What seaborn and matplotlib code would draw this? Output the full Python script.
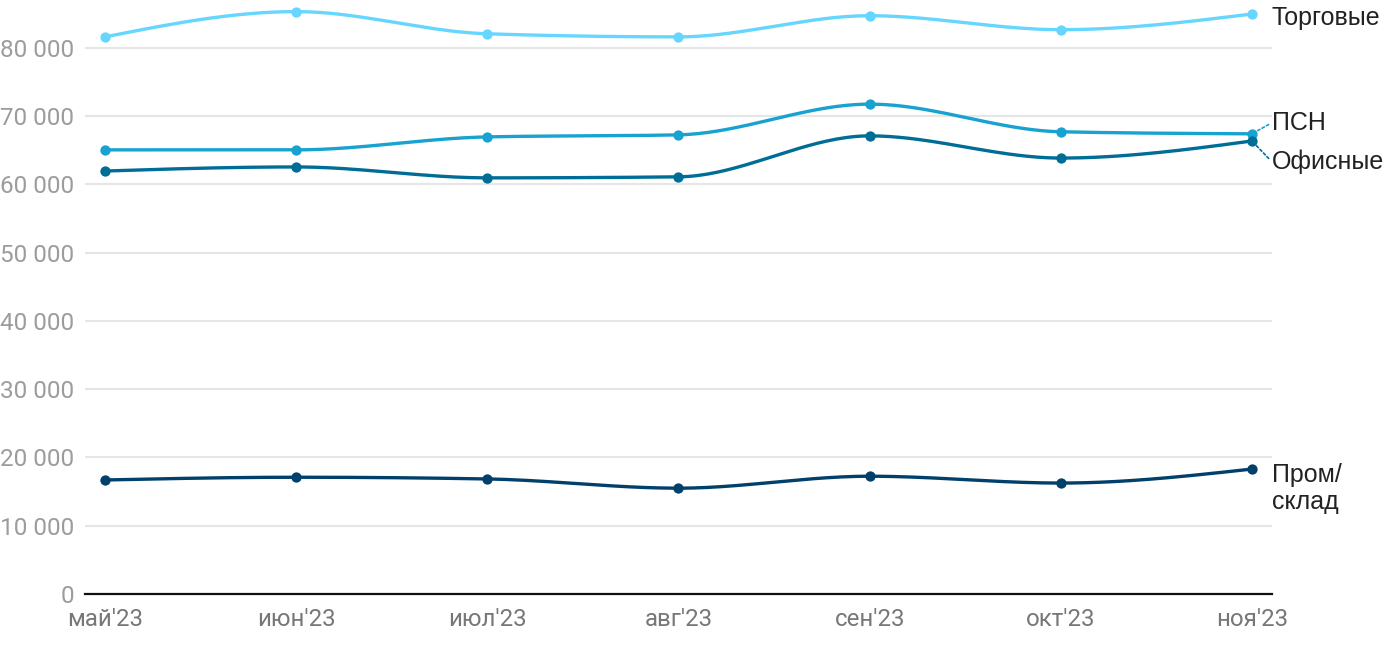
import numpy as np
import pandas as pd
import matplotlib
matplotlib.use("Agg")
import matplotlib.pyplot as plt
import seaborn as sns

# ---------------- данные ----------------
months = ["май'23", "июн'23", "июл'23", "авг'23", "сен'23", "окт'23", "ноя'23"]
torgovye = [81600, 85300, 82050, 81600, 84700, 82650, 84950]
psn = [65050, 65050, 66950, 67250, 71750, 67700, 67400]
ofisnye = [61950, 62550, 60950, 61100, 67100, 63850, 66350]
prom_sklad = [16700, 17100, 16850, 15500, 17250, 16250, 18300]

series_names = ["Торговые", "ПСН", "Офисные", "Пром/\nсклад"]
series_values = [torgovye, psn, ofisnye, prom_sklad]
colors = ["#66d6ff", "#17a2d0", "#006d96", "#00406a"]

y_ticks = [0, 10000, 20000, 30000, 40000, 50000, 60000, 70000, 80000]


def monotone_curve(x, y, n=40):
    """Кривая monotoneX (как в d3) между точками."""
    x = np.asarray(x, float)
    y = np.asarray(y, float)
    h = np.diff(x)
    s = np.diff(y) / h
    t = np.zeros_like(y)
    for i in range(1, len(y) - 1):
        p = (s[i - 1] * h[i] + s[i] * h[i - 1]) / (h[i - 1] + h[i])
        t[i] = (np.sign(s[i - 1]) + np.sign(s[i])) * min(abs(s[i - 1]), abs(s[i]), 0.5 * abs(p))
    t[0] = (3 * s[0] - t[1]) / 2
    t[-1] = (3 * s[-1] - t[-2]) / 2
    xs, ys = [], []
    for i in range(len(x) - 1):
        u = np.linspace(0, 1, n, endpoint=(i == len(x) - 2))
        h00 = 2 * u**3 - 3 * u**2 + 1
        h10 = u**3 - 2 * u**2 + u
        h01 = -2 * u**3 + 3 * u**2
        h11 = u**3 - u**2
        xs.append(x[i] + u * h[i])
        ys.append(h00 * y[i] + h10 * h[i] * t[i] + h01 * y[i + 1] + h11 * h[i] * t[i + 1])
    return np.concatenate(xs), np.concatenate(ys)


sns.set_style("white")
plt.rcParams["font.family"] = ["Roboto", "DejaVu Sans"]

fig = plt.figure(figsize=(14, 6.5), dpi=100)
ax = fig.add_axes([85 / 1400, 56 / 650, (1272 - 85) / 1400, 594 / 650])

xpos = np.arange(len(months))
for name, vals, col in zip(series_names, series_values, colors):
    cx, cy = monotone_curve(xpos, vals)
    curve = pd.DataFrame({"x": cx, "y": cy})
    sns.lineplot(data=curve, x="x", y="y", color=col, linewidth=2.4,
                 ax=ax, clip_on=False, zorder=3, sort=False)
    pts = pd.DataFrame({"x": xpos, "y": vals})
    sns.scatterplot(data=pts, x="x", y="y", color=col, s=55, linewidth=0,
                    ax=ax, clip_on=False, zorder=4)

ax.set_xlim(-0.105, len(months) - 1 + 0.105)
ax.set_ylim(0, 87000)
ax.set_xticks(xpos)
ax.set_xticklabels(months)
ax.set_yticks(y_ticks)
ax.set_yticklabels([f"{v:,}".replace(",", " ") for v in y_ticks])
ax.set_xlabel("")
ax.set_ylabel("")

ax.tick_params(axis="y", length=0, pad=8, labelsize=17.5, labelcolor="#9c9c9c")
ax.tick_params(axis="x", length=0, pad=10, labelsize=17.3, labelcolor="#777777")
ax.grid(axis="y", color="#e6e6e6", linewidth=1.5)
ax.grid(axis="x", visible=False)
for side in ["top", "right", "left"]:
    ax.spines[side].set_visible(False)
ax.spines["bottom"].set_color("#111111")
ax.spines["bottom"].set_linewidth(1.6)
ax.spines["bottom"].set_zorder(5)

# подписи серий справа
last = len(months) - 1
label_font = dict(family=["Liberation Sans", "DejaVu Sans"], fontsize=18, color="#222222",
                  va="center", ha="left", linespacing=1.2)
ax.annotate(series_names[0], xy=(last, torgovye[-1]), xytext=(14.4, -3),
            textcoords="offset points", annotation_clip=False, **label_font)
ax.annotate(series_names[1], xy=(last, psn[-1]), xytext=(14.4, 8),
            textcoords="offset points", annotation_clip=False,
            arrowprops=dict(arrowstyle="-", color=colors[1], linestyle=(0, (1.5, 1.5)),
                            linewidth=1.2, shrinkA=0, shrinkB=4,
                            relpos=(0, 0.5)), **label_font)
ax.annotate(series_names[2], xy=(last, ofisnye[-1]), xytext=(14.4, -15),
            textcoords="offset points", annotation_clip=False,
            arrowprops=dict(arrowstyle="-", color=colors[2], linestyle=(0, (1.5, 1.5)),
                            linewidth=1.2, shrinkA=0, shrinkB=4,
                            relpos=(0, 0.5)), **label_font)
ax.annotate(series_names[3], xy=(last, prom_sklad[-1]), xytext=(14.4, -14),
            textcoords="offset points", annotation_clip=False, **label_font)

fig.savefig("out.png", dpi=100)
plt.close(fig)
